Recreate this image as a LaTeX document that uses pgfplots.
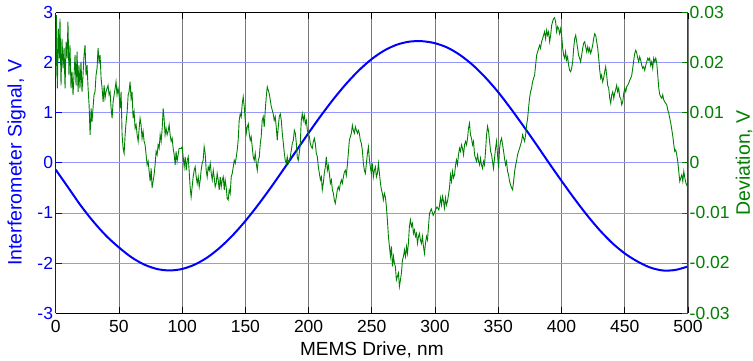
\documentclass[border=0pt]{standalone}
\usepackage{fontspec}
\setmainfont{Liberation Sans}
\usepackage{pgfplots}
\pgfplotsset{compat=1.18}
\definecolor{mblue}{RGB}{0,0,255}
\definecolor{mgreen}{RGB}{0,128,0}
\definecolor{gridblue}{RGB}{150,150,255}
\definecolor{gridgray}{RGB}{120,120,120}
\definecolor{raxis}{RGB}{0,90,60}

\pgfplotstableread{
x y
0 -0.136
10 -0.497
20 -0.860
30 -1.180
40 -1.460
50 -1.690
60 -1.888
70 -2.032
80 -2.120
90 -2.150
100 -2.120
110 -2.032
120 -1.888
130 -1.690
140 -1.446
150 -1.161
160 -0.841
170 -0.497
180 -0.136
190 0.232
200 0.598
210 0.952
220 1.285
230 1.588
240 1.854
250 2.076
260 2.247
270 2.363
280 2.423
290 2.430
300 2.390
310 2.300
320 2.150
330 1.950
340 1.700
350 1.410
360 1.080
370 0.730
380 0.370
390 0.000
400 -0.360
410 -0.710
420 -1.040
430 -1.340
440 -1.600
450 -1.810
460 -1.970
470 -2.090
480 -2.150
490 -2.140
500 -2.070
}\blue

\pgfplotstableread{
x y
0 0.0175
0.5 0.0295
1.3 0.0149
2.1 0.0268
2.9 0.0209
3.4 0.0288
4.2 0.0155
5.0 0.0248
5.8 0.0189
6.6 0.0229
7.4 0.0149
8.2 0.0242
9.0 0.0209
9.7 0.0282
10.5 0.0175
11.3 0.0235
12.1 0.0149
12.9 0.0182
13.7 0.0136
14.5 0.0175
15.3 0.0215
16.1 0.0155
16.9 0.0222
17.7 0.0142
18.4 0.0195
19.2 0.0149
20.0 0.0202
20.8 0.0142
21.6 0.0175
22.4 0.0215
23.2 0.0235
24.0 0.0175
24.8 0.0195
25.6 0.0149
26.4 0.0116
27.2 0.0056
28.0 0.0109
28.7 0.0082
29.5 0.0109
30.3 0.0136
31.1 0.0142
31.9 0.0175
32.7 0.0189
33.5 0.0229
34.3 0.0202
35.1 0.0215
35.9 0.0169
36.7 0.0149
37.5 0.0122
38.3 0.0155
39.0 0.0129
39.8 0.0142
40.6 0.0149
41.4 0.0155
42.2 0.0136
43.0 0.0142
43.8 0.0109
44.6 0.0089
45.4 0.0122
46.2 0.0136
47.0 0.0149
47.7 0.0162
48.5 0.0136
49.3 0.0149
50.1 0.0136
50.9 0.0109
51.7 0.0142
52.5 0.0056
53.3 0.0029
54.1 0.0019
54.9 0.0056
55.7 0.0082
56.5 0.0102
57.3 0.0136
58.0 0.0142
58.8 0.0162
59.6 0.0129
60.4 0.0142
61.2 0.0089
62.0 0.0102
62.8 0.0069
63.6 0.0076
64.4 0.0056
65.2 0.0043
66.0 0.0069
66.7 0.0089
67.5 0.0076
68.3 0.0049
69.1 0.0063
69.9 0.0043
70.7 0.0036
71.5 0.0016
72.3 -0.0004
73.1 0.0003
73.9 -0.0017
74.7 -0.0037
75.5 -0.0011
76.2 -0.0050
77.0 -0.0037
77.8 -0.0024
78.6 -0.0004
79.4 0.0023
80.2 0.0016
81.0 0.0036
81.8 0.0029
82.6 0.0056
83.4 0.0043
84.2 0.0069
85.0 0.0109
85.7 0.0089
86.5 0.0056
87.3 0.0069
88.1 0.0056
88.9 0.0063
89.7 0.0076
90.5 0.0056
91.3 0.0043
92.1 0.0049
92.9 0.0029
93.7 0.0016
94.5 -0.0004
95.2 0.0023
96.0 0.0003
96.8 0.0016
97.6 0.0029
98.4 0.0029
99.2 0.0029
100.0 0.0032
100.8 0.0012
101.6 -0.0008
102.4 0.0012
103.2 -0.0015
104.0 0.0005
104.8 0.0012
105.5 -0.0015
106.3 -0.0048
107.1 -0.0068
107.9 -0.0048
108.7 -0.0028
109.5 -0.0015
110.3 -0.0008
111.1 -0.0028
111.9 -0.0041
112.7 -0.0028
113.5 -0.0048
114.3 -0.0034
115.0 -0.0015
115.8 -0.0001
116.6 0.0005
117.4 0.0032
118.2 0.0019
119.0 -0.0015
119.8 -0.0028
120.6 -0.0008
121.4 -0.0015
122.2 -0.0001
123.0 -0.0021
123.8 -0.0034
124.6 -0.0015
125.3 -0.0028
126.1 -0.0048
126.9 -0.0041
127.7 -0.0021
128.5 -0.0034
129.3 -0.0054
130.1 -0.0028
130.9 -0.0048
131.7 -0.0034
132.5 -0.0028
133.3 -0.0054
134.0 -0.0034
134.8 -0.0048
135.6 -0.0071
136.4 -0.0074
137.2 -0.0054
138.0 -0.0061
138.8 -0.0028
139.6 -0.0021
140.4 -0.0008
141.2 0.0005
142.0 -0.0001
142.8 0.0012
143.5 0.0025
144.3 0.0045
145.1 0.0085
145.9 0.0098
146.7 0.0092
147.5 0.0118
148.3 0.0132
149.1 0.0112
149.9 0.0085
150.7 0.0059
151.5 0.0072
152.3 0.0078
153.0 0.0059
153.8 0.0045
154.6 0.0052
155.4 0.0032
156.2 0.0012
157.0 0.0005
157.8 0.0019
158.6 -0.0001
159.4 -0.0015
160.2 0.0005
161.0 0.0012
161.8 0.0039
162.5 0.0052
163.3 0.0085
164.1 0.0092
164.9 0.0072
165.7 0.0105
166.5 0.0132
167.3 0.0152
168.1 0.0145
168.9 0.0138
169.7 0.0125
170.5 0.0112
171.3 0.0105
172.0 0.0098
172.8 0.0085
173.6 0.0092
174.4 0.0072
175.2 0.0045
176.0 0.0072
176.8 0.0092
177.6 0.0098
178.4 0.0085
179.2 0.0059
180.0 0.0039
180.8 0.0019
181.5 0.0005
182.3 -0.0001
183.1 0.0012
183.9 -0.0001
184.7 0.0005
185.5 0.0012
186.3 0.0025
187.1 0.0039
187.9 0.0045
188.7 0.0065
189.5 0.0059
190.3 0.0039
191.0 0.0012
191.8 0.0005
192.6 0.0019
193.4 0.0039
194.2 0.0085
195.0 0.0098
195.8 0.0085
196.6 0.0095
197.4 0.0078
198.2 0.0085
199.0 0.0065
199.8 0.0059
200.6 0.0052
201.3 0.0039
202.1 0.0032
202.9 0.0029
203.7 0.0042
204.5 0.0049
205.3 0.0039
206.1 0.0019
206.9 0.0012
207.7 -0.0008
208.5 -0.0021
209.3 -0.0034
210.1 -0.0028
210.8 -0.0054
211.6 -0.0041
212.4 -0.0021
213.2 -0.0008
214.0 0.0012
214.8 -0.0015
215.6 -0.0005
216.4 -0.0021
217.2 -0.0041
218.0 -0.0034
218.8 -0.0054
219.6 -0.0061
220.3 -0.0074
221.1 -0.0081
221.9 -0.0068
222.7 -0.0054
223.5 -0.0048
224.3 -0.0054
225.1 -0.0041
225.9 -0.0034
226.7 -0.0041
227.5 -0.0028
228.3 -0.0018
229.1 -0.0015
229.8 -0.0025
230.6 -0.0005
231.4 0.0019
232.2 0.0045
233.0 0.0052
233.8 0.0059
234.6 0.0075
235.4 0.0065
236.2 0.0059
237.0 0.0072
237.8 0.0065
238.6 0.0059
239.3 0.0065
240.1 0.0059
240.9 0.0045
241.7 0.0039
242.5 0.0025
243.3 -0.0001
244.1 -0.0015
244.9 -0.0021
245.7 -0.0001
246.5 0.0019
247.3 0.0032
248.1 0.0005
248.8 -0.0008
249.6 -0.0021
250.4 -0.0001
251.2 -0.0028
252.0 -0.0015
252.8 -0.0008
253.6 -0.0028
254.4 -0.0021
255.2 -0.0001
256.0 -0.0021
256.8 -0.0041
257.6 -0.0054
258.3 -0.0061
259.1 -0.0074
259.9 -0.0061
260.7 -0.0068
261.5 -0.0088
262.3 -0.0114
263.1 -0.0147
263.9 -0.0167
264.7 -0.0187
265.5 -0.0167
266.3 -0.0207
267.1 -0.0187
267.8 -0.0200
268.6 -0.0207
269.4 -0.0234
270.2 -0.0227
271.0 -0.0220
271.8 -0.0247
272.6 -0.0234
273.4 -0.0220
274.2 -0.0194
275.0 -0.0187
275.8 -0.0174
276.6 -0.0187
277.4 -0.0167
278.1 -0.0181
278.9 -0.0161
279.7 -0.0127
280.5 -0.0114
281.3 -0.0127
282.1 -0.0121
282.9 -0.0141
283.7 -0.0134
284.5 -0.0147
285.3 -0.0141
286.1 -0.0161
286.9 -0.0147
287.6 -0.0141
288.4 -0.0154
289.2 -0.0161
290.0 -0.0147
290.8 -0.0167
291.6 -0.0181
292.4 -0.0161
293.2 -0.0147
294.0 -0.0154
294.8 -0.0127
295.6 -0.0101
297.0 -0.0092
298.5 -0.0105
300.0 -0.0096
301.5 -0.0088
303.0 -0.0094
304.3 -0.0070
305.1 -0.0084
305.9 -0.0067
306.7 -0.0077
307.4 -0.0090
308.2 -0.0070
309.0 -0.0084
309.8 -0.0077
310.6 -0.0064
311.4 -0.0050
312.2 -0.0024
313.0 -0.0037
313.8 -0.0017
314.6 -0.0030
315.4 -0.0024
316.2 -0.0004
316.9 0.0006
317.7 -0.0004
318.5 0.0016
319.3 0.0029
320.1 0.0023
320.9 0.0036
321.7 0.0029
322.5 0.0016
323.3 0.0036
324.1 0.0043
324.9 0.0036
325.7 0.0049
326.4 0.0069
327.2 0.0079
328.0 0.0056
328.8 0.0049
329.6 0.0036
330.4 0.0043
331.2 0.0016
332.0 0.0009
332.8 0.0003
333.6 0.0016
334.4 0.0003
335.2 -0.0004
335.9 0.0009
336.7 -0.0004
337.5 -0.0011
338.3 0.0003
339.1 -0.0004
339.9 0.0023
340.7 0.0056
341.5 0.0073
342.3 0.0063
343.1 0.0043
343.9 0.0023
344.7 0.0016
345.4 0.0003
346.2 -0.0011
347.0 0.0009
347.8 0.0029
348.6 0.0043
349.4 0.0016
350.2 -0.0011
351.0 0.0029
351.8 0.0043
352.6 0.0049
353.4 0.0036
354.2 0.0023
354.9 0.0009
355.7 -0.0004
356.5 0.0003
357.3 -0.0017
358.1 -0.0024
358.9 -0.0037
359.7 -0.0044
360.5 -0.0050
361.3 -0.0054
362.1 -0.0037
362.9 -0.0017
363.7 -0.0004
364.4 0.0003
365.2 0.0016
366.0 0.0023
366.8 0.0029
367.6 0.0036
368.4 0.0043
369.2 0.0056
370.0 0.0049
370.8 0.0043
371.6 0.0056
372.4 0.0076
373.2 0.0089
373.9 0.0109
374.7 0.0129
375.5 0.0142
376.3 0.0149
377.1 0.0162
377.9 0.0169
378.7 0.0175
379.5 0.0195
380.3 0.0215
381.1 0.0222
381.9 0.0229
382.7 0.0235
383.4 0.0229
384.2 0.0242
385.0 0.0248
385.8 0.0255
386.6 0.0262
387.4 0.0248
388.2 0.0265
389.0 0.0255
389.8 0.0262
390.6 0.0242
391.4 0.0255
392.2 0.0275
392.9 0.0282
393.7 0.0288
394.5 0.0290
395.3 0.0282
396.1 0.0262
396.9 0.0272
397.7 0.0268
398.5 0.0258
399.3 0.0268
400.1 0.0255
400.9 0.0229
401.7 0.0215
402.5 0.0209
403.2 0.0222
404.0 0.0205
404.8 0.0212
405.6 0.0195
406.4 0.0185
407.2 0.0182
408.0 0.0189
408.8 0.0202
409.6 0.0229
410.4 0.0248
411.2 0.0255
412.0 0.0242
412.7 0.0229
413.5 0.0215
414.3 0.0209
415.1 0.0202
415.9 0.0215
416.7 0.0229
417.5 0.0239
418.3 0.0242
419.1 0.0232
419.9 0.0222
420.7 0.0232
421.5 0.0222
422.2 0.0229
423.0 0.0219
423.8 0.0225
424.6 0.0235
425.4 0.0248
426.2 0.0258
427.0 0.0255
427.8 0.0242
428.6 0.0229
429.4 0.0209
430.2 0.0185
431.0 0.0169
431.7 0.0175
432.5 0.0162
433.3 0.0169
434.1 0.0182
434.9 0.0192
435.7 0.0175
436.5 0.0155
437.3 0.0149
438.1 0.0129
438.9 0.0119
439.7 0.0136
440.5 0.0142
441.3 0.0129
442.0 0.0139
442.8 0.0146
443.6 0.0155
444.4 0.0142
445.2 0.0149
446.0 0.0132
446.8 0.0129
447.6 0.0116
448.4 0.0122
449.2 0.0139
450.0 0.0149
450.8 0.0142
451.5 0.0152
452.3 0.0155
453.1 0.0159
453.9 0.0165
454.7 0.0169
455.5 0.0175
456.3 0.0189
457.1 0.0205
457.9 0.0219
458.7 0.0225
459.5 0.0219
460.3 0.0209
461.0 0.0202
461.8 0.0212
462.6 0.0205
463.4 0.0195
464.2 0.0189
465.0 0.0192
465.8 0.0185
466.6 0.0195
467.4 0.0202
468.2 0.0209
469.0 0.0205
469.7 0.0209
470.5 0.0195
471.3 0.0202
472.1 0.0189
472.9 0.0209
473.7 0.0202
474.5 0.0209
475.3 0.0199
476.1 0.0175
476.9 0.0149
477.7 0.0136
478.5 0.0132
479.3 0.0129
480.0 0.0136
480.8 0.0126
481.6 0.0122
482.4 0.0119
483.2 0.0116
484.0 0.0106
484.8 0.0099
485.6 0.0089
486.4 0.0079
487.2 0.0066
488.0 0.0053
488.8 0.0036
489.5 0.0023
490.3 0.0026
491.1 0.0016
491.9 0.0003
492.7 -0.0017
493.5 -0.0037
494.3 -0.0030
495.1 -0.0024
495.9 -0.0037
496.7 -0.0017
497.5 -0.0030
498.3 -0.0040
499.0 -0.0044
499.8 -0.0050
}\green

\begin{document}
\begin{tikzpicture}
\begin{axis}[
  scale only axis, width=632.3pt, height=300.3pt,
  xmin=0, xmax=500, ymin=-3, ymax=3,
  xtick={0,50,100,150,200,250,300,350,400,450,500},
  xticklabels={0,50,100,150,200,250,300,350,400,450,500},
  ytick={-3,-2,-1,0,1,2,3},
  yticklabels={-3,-2,-1,0,1,2,3},
  tick align=inside, major tick length=6pt,
  xtick pos=both, ytick pos=left,
  separate axis lines,
  x axis line style={black, line width=1pt},
  y axis line style={mblue, line width=1pt},
  x tick style={black, line width=0.8pt},
  y tick style={mblue, line width=0.8pt},
  xticklabel style={font=\fontsize{17.5}{17.5}\selectfont, inner sep=0pt, anchor=north, yshift=-7pt},
  yticklabel style={font=\fontsize{17.5}{17.5}\selectfont, mblue, inner sep=0pt, anchor=east, xshift=-2.5pt},
  grid=major,
  x grid style={gridgray, line width=0.7pt},
  y grid style={gridblue, line width=0.8pt},
  xlabel={MEMS Drive, nm},
  xlabel style={font=\fontsize{19}{19}\selectfont, at={(axis description cs:0.5,0)}, anchor=base, yshift=-42pt},
  ylabel={Interferometer Signal, V},
  ylabel style={font=\fontsize{19.5}{19.5}\selectfont, mblue, at={(axis description cs:0,0.5)}, anchor=center, yshift=39pt},
]
\addplot[mblue, line width=2pt, smooth] table[x=x, y=y] {\blue};
\end{axis}
\begin{axis}[
  scale only axis, width=632.3pt, height=300.3pt,
  xmin=0, xmax=500, ymin=-0.03, ymax=0.03,
  axis x line=none, axis y line*=right,
  scaled y ticks=false,
  ytick={-0.03,-0.02,-0.01,0,0.01,0.02,0.03},
  yticklabels={-0.03,-0.02,-0.01,0,0.01,0.02,0.03},
  tick align=inside, major tick length=6pt,
  y axis line style={raxis, line width=1pt},
  y tick style={mgreen, line width=0.8pt},
  yticklabel style={font=\fontsize{17.5}{17.5}\selectfont, mgreen, inner sep=0pt, anchor=west, xshift=1.5pt},
  ylabel={Deviation, V},
  ylabel style={font=\fontsize{19.5}{19.5}\selectfont, mgreen, at={(axis description cs:1,0.5)}, anchor=center, yshift=-56pt},
]
\addplot[mgreen, line width=0.9pt] table[x=x, y=y] {\green};
\end{axis}
\pgfresetboundingbox
\path[use as bounding box] (-55.7pt,-47pt) rectangle (697.3pt,313pt);
\end{tikzpicture}
\end{document}
